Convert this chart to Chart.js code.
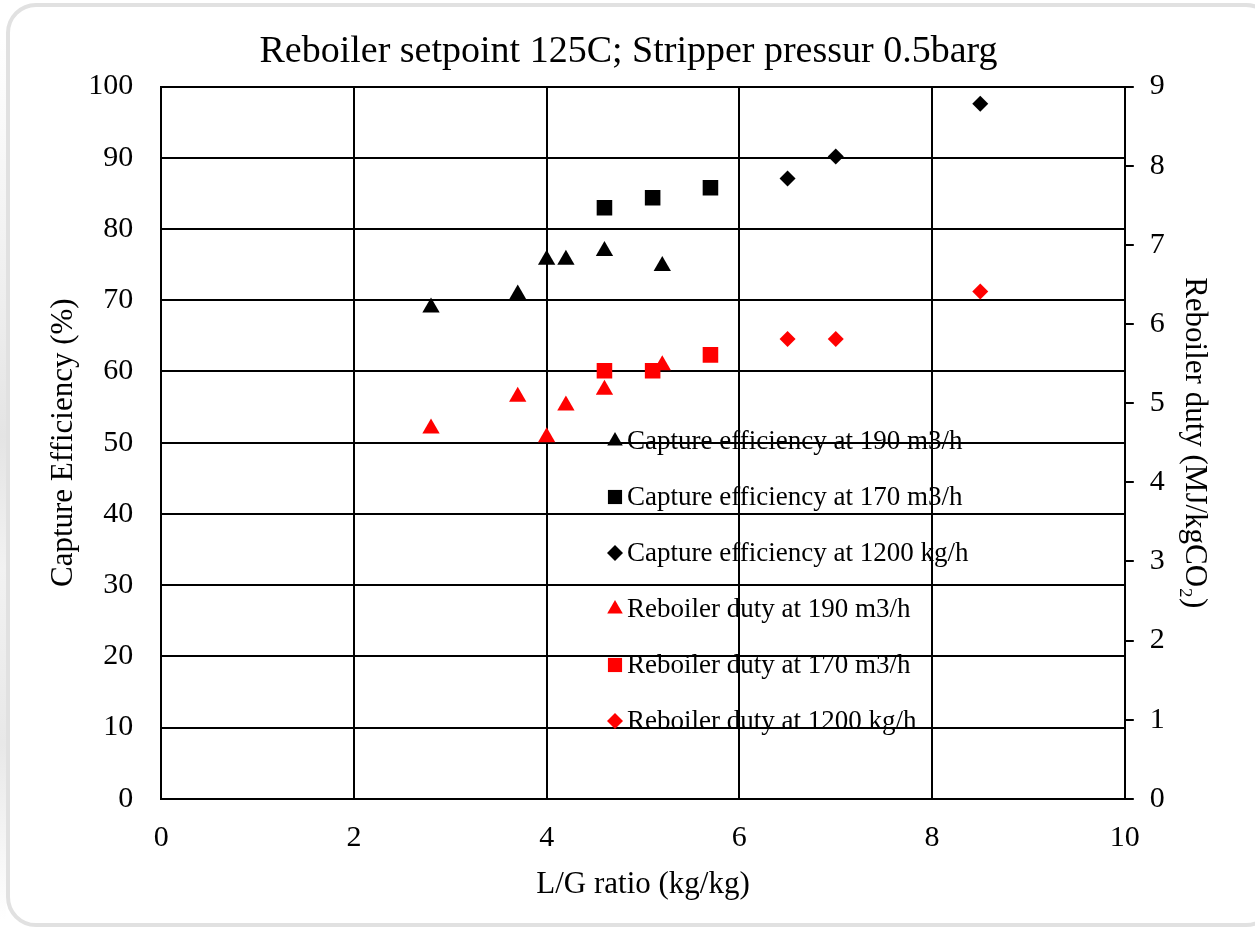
<!DOCTYPE html>
<html>
<head>
<meta charset="utf-8">
<script src="https://cdn.jsdelivr.net/npm/chart.js@4/dist/chart.umd.min.js"></script>
<style>
  html, body { margin: 0; padding: 0; background: #fff; }
  #wrap { position: relative; width: 1255px; height: 937px; overflow: hidden; }
  #frame {
    position: absolute; left: 6px; top: 3px; width: 1270px; height: 924px;
    border: 4px solid #e1e1e1; border-radius: 30px; box-sizing: border-box;
  }
  #shade { position: absolute; left: 0; top: 40px; width: 6px; height: 880px;
    background: linear-gradient(to bottom, #fff 0%, #eee 30%, #e4e4e4 45%, #f2f2f2 60%, #e8e8e8 80%, #fff 100%); }
  canvas { position: absolute; left: 0; top: 0; }
</style>
</head>
<body>
<div id="wrap">
  <div id="shade"></div>
  <div id="frame"></div>
  <canvas id="chart" width="1255" height="937"></canvas>
</div>
<script>
// L/G ratio (kg/kg)
const lg190 = [2.8, 3.7, 4.0, 4.2, 4.6, 5.2];
const lg170 = [4.6, 5.1, 5.7];
const lg1200 = [6.5, 7.0, 8.5];

// capture efficiency (%) - left axis
const capture190 = [69.0, 70.8, 75.7, 75.7, 76.9, 74.8];
const capture170 = [83.0, 84.4, 85.8];
const capture1200 = [87.1, 90.2, 97.6];

// reboiler duty (MJ/kgCO2) - right axis
const duty190 = [4.68, 5.08, 4.57, 4.97, 5.17, 5.48];
const duty170 = [5.41, 5.41, 5.61];
const duty1200 = [5.81, 5.81, 6.41];

const xTicks = [0, 2, 4, 6, 8, 10];

const fontFam = "'Liberation Serif', 'Times New Roman', serif";

function pts(xs, ys) {
  return xs.map((x, i) => ({ x: x, y: ys[i] }));
}

function ds(label, xs, ys, color, style, r, axis) {
  return {
    label: label,
    data: pts(xs, ys),
    yAxisID: axis,
    backgroundColor: color,
    borderColor: color,
    borderWidth: 0,
    pointStyle: style,
    pointRadius: r,
    pointHoverRadius: r,
    showLine: false
  };
}

const datasets = [
  ds('Capture efficiency at 190 m3/h', lg190, capture190, '#000', 'triangle', 10, 'y'),
  ds('Capture efficiency at 170 m3/h', lg170, capture170, '#000', 'rect', 11, 'y'),
  ds('Capture efficiency at 1200 kg/h', lg1200, capture1200, '#000', 'rectRot', 8, 'y'),
  ds('Reboiler duty at 190 m3/h', lg190, duty190, '#ff0000', 'triangle', 10, 'y2'),
  ds('Reboiler duty at 170 m3/h', lg170, duty170, '#ff0000', 'rect', 11, 'y2'),
  ds('Reboiler duty at 1200 kg/h', lg1200, duty1200, '#ff0000', 'rectRot', 8, 'y2')
];

// legend drawn inside the plot, over the grid
const insideLegend = {
  id: 'insideLegend',
  afterDraw(chart) {
    const ctx = chart.ctx;
    const sizes = { triangle: 9, rect: 10, rectRot: 8 };
    ctx.save();
    chart.data.datasets.forEach((d, i) => {
      const y = 441 + i * 56;
      const x = 615;
      ctx.fillStyle = d.backgroundColor;
      ctx.strokeStyle = d.backgroundColor;
      ctx.lineWidth = 0;
      Chart.helpers.drawPoint(ctx, { pointStyle: d.pointStyle, radius: sizes[d.pointStyle], rotation: 0, borderWidth: 0 }, x, y);
      ctx.fillStyle = '#000';
      ctx.font = '27px ' + fontFam;
      ctx.textBaseline = 'middle';
      ctx.fillText(d.label, 627, y + 1);
    });
    ctx.restore();
  }
};

new Chart(document.getElementById('chart'), {
  type: 'scatter',
  data: { datasets: datasets },
  plugins: [insideLegend],
  options: {
    responsive: false,
    animation: false,
    layout: { padding: { left: 40, right: 38, top: 29, bottom: 34 } },
    plugins: {
      legend: { display: false },
      tooltip: { enabled: false },
      title: {
        display: true,
        text: 'Reboiler setpoint 125C; Stripper pressur 0.5barg',
        color: '#000',
        font: { family: fontFam, size: 38, weight: 'normal' },
        padding: { top: 0, bottom: 12 }
      }
    },
    scales: {
      x: {
        type: 'linear',
        min: 0, max: 10,
        afterBuildTicks: (axis) => { axis.ticks = xTicks.map(v => ({ value: v })); },
        grid: { color: '#000', lineWidth: 2, drawTicks: false },
        border: { color: '#000', width: 2 },
        ticks: { color: '#000', font: { family: fontFam, size: 30 }, padding: 21 },
        title: { display: true, text: 'L/G ratio (kg/kg)', color: '#000',
          font: { family: fontFam, size: 31 }, padding: { top: -11, bottom: 0 } }
      },
      y: {
        position: 'left',
        min: 0, max: 100,
        ticks: { stepSize: 10, color: '#000', font: { family: fontFam, size: 30 }, padding: 28 },
        grid: { color: '#000', lineWidth: 2, drawTicks: false },
        border: { color: '#000', width: 2 },
        title: { display: true, text: 'Capture Efficiency (%)', color: '#000',
          font: { family: fontFam, size: 31 }, padding: { top: 5, bottom: -22 } }
      },
      y2: {
        position: 'right',
        min: 0, max: 9,
        ticks: { stepSize: 1, color: '#000', font: { family: fontFam, size: 30 }, padding: 16 },
        grid: { drawOnChartArea: false, color: '#000', lineWidth: 2, drawTicks: true, tickLength: 9 },
        border: { color: '#000', width: 2 },
        title: { display: true, text: 'Reboiler duty (MJ/kgCO\u2082)', color: '#000',
          font: { family: fontFam, size: 31 }, padding: { top: 4, bottom: -5 } }
      }
    }
  }
});
</script>
</body>
</html>
